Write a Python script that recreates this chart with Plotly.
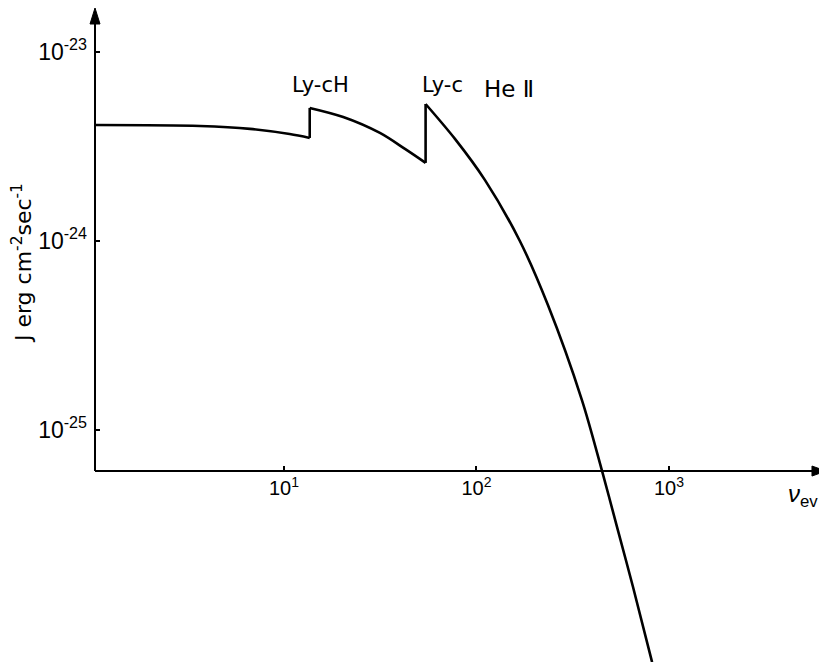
import plotly.graph_objects as go

# photon energy (eV) and J (erg cm^-2 sec^-1)
nu_ev = [1.05, 3.66, 6.66, 10.7, 13.6, 13.6, 20.3, 31.5, 42.5, 54.4, 54.4,
         77.3, 110.7, 168, 235, 353, 449, 537, 650, 817]
j_nu = [4.11e-24, 4.06e-24, 3.92e-24, 3.68e-24, 3.51e-24, 5.06e-24, 4.53e-24,
        3.73e-24, 3.07e-24, 2.59e-24, 5.31e-24, 3.47e-24, 2.10e-24, 1.0e-24,
        4.58e-25, 1.44e-25, 6.07e-26, 3.07e-26, 1.48e-26, 5.91e-27]
# the two absorption edges: Ly-c of H at 13.6 eV, Ly-c of He II at 54.4 eV
edges = [4, 9]

x_tickvals = [10, 100, 1000]
x_ticktext = ["10<sup>1</sup>", "10<sup>2</sup>", "10<sup>3</sup>"]
y_tickvals = [1e-23, 1e-24, 1e-25]
y_ticktext = ["10<sup>-23</sup>", "10<sup>-24</sup>", "10<sup>-25</sup>"]

SANS = "Liberation Sans, Arial, sans-serif"
WIDE = "DejaVu Sans, sans-serif"
axis_y = 0.292  # paper height of the x axis line

fig = go.Figure()

# smooth pieces between the edges
starts = [0] + [e + 1 for e in edges]
stops = [e + 1 for e in edges] + [len(nu_ev)]
for a, b in zip(starts, stops):
    fig.add_trace(go.Scatter(
        x=nu_ev[a:b], y=j_nu[a:b], mode="lines",
        line=dict(color="black", width=2.6, shape="spline", smoothing=0.9),
        hoverinfo="skip", showlegend=False,
    ))
# vertical jumps at the edges
for e in edges:
    fig.add_trace(go.Scatter(
        x=nu_ev[e:e + 2], y=j_nu[e:e + 2], mode="lines",
        line=dict(color="black", width=2.6),
        hoverinfo="skip", showlegend=False,
    ))

fig.update_layout(
    width=819, height=654,
    margin=dict(l=87, r=0, t=0, b=0),
    paper_bgcolor="white", plot_bgcolor="white",
    font=dict(family=SANS, size=18, color="black"),
    xaxis=dict(
        type="log", range=[0.018, 3.821],
        anchor="free", position=axis_y, automargin=False,
        showgrid=False, zeroline=False, showline=False,
        tickmode="array", tickvals=x_tickvals, ticktext=x_ticktext,
        ticks="inside", ticklen=5, tickwidth=1.5, tickcolor="black",
        tickfont=dict(family=SANS, size=20), ticklabelstandoff=3,
    ),
    yaxis=dict(
        type="log", range=[-26.228, -22.767], automargin=False,
        showgrid=False, zeroline=False, showline=False,
        tickmode="array", tickvals=y_tickvals, ticktext=y_ticktext,
        ticks="inside", ticklen=5, tickwidth=1.5, tickcolor="black",
        tickfont=dict(family=SANS, size=23), ticklabelstandoff=7,
    ),
)

# axis lines with arrow heads
fig.add_shape(type="line", xref="paper", yref="paper",
              x0=0, x1=0, y0=axis_y, y1=0.985,
              line=dict(color="black", width=2))
fig.add_shape(type="line", xref="paper", yref="paper",
              x0=0, x1=0.985, y0=axis_y, y1=axis_y,
              line=dict(color="black", width=2))
fig.add_shape(type="path", xref="paper", yref="paper",
              xsizemode="pixel", ysizemode="pixel",
              xanchor=0, yanchor=1.0,
              path="M0,0 L-5,-16 L5,-16 Z",
              fillcolor="black", line=dict(color="black", width=1))
fig.add_shape(type="path", xref="paper", yref="paper",
              xsizemode="pixel", ysizemode="pixel",
              xanchor=0.9986, yanchor=axis_y,
              path="M0,0 L-14,5 L-14,-5 Z",
              fillcolor="black", line=dict(color="black", width=1))

# labels
fig.add_annotation(text="J erg cm<sup>-2</sup>sec<sup>-1</sup>", textangle=-90,
                   xref="paper", yref="paper", x=-0.0997, y=0.61,
                   xanchor="center", yanchor="middle",
                   showarrow=False, font=dict(family=WIDE, size=22))
fig.add_annotation(text="<i>ν</i><sub>ev</sub>", xref="paper", yref="paper",
                   x=0.967, y=0.255, xanchor="center", yanchor="middle",
                   showarrow=False, font=dict(family=SANS, size=24))
fig.add_annotation(text="Ly-cH", x=1.187, y=-23.175, xref="x", yref="y",
                   xanchor="center", yanchor="middle",
                   showarrow=False, font=dict(family=WIDE, size=21))
fig.add_annotation(text="Ly-c", x=1.821, y=-23.175, xref="x", yref="y",
                   xanchor="center", yanchor="middle",
                   showarrow=False, font=dict(family=WIDE, size=21))
fig.add_annotation(text="He Ⅱ", x=2.169, y=-23.196, xref="x", yref="y",
                   xanchor="center", yanchor="middle",
                   showarrow=False, font=dict(family=WIDE, size=23))

fig.write_html("out.html")
